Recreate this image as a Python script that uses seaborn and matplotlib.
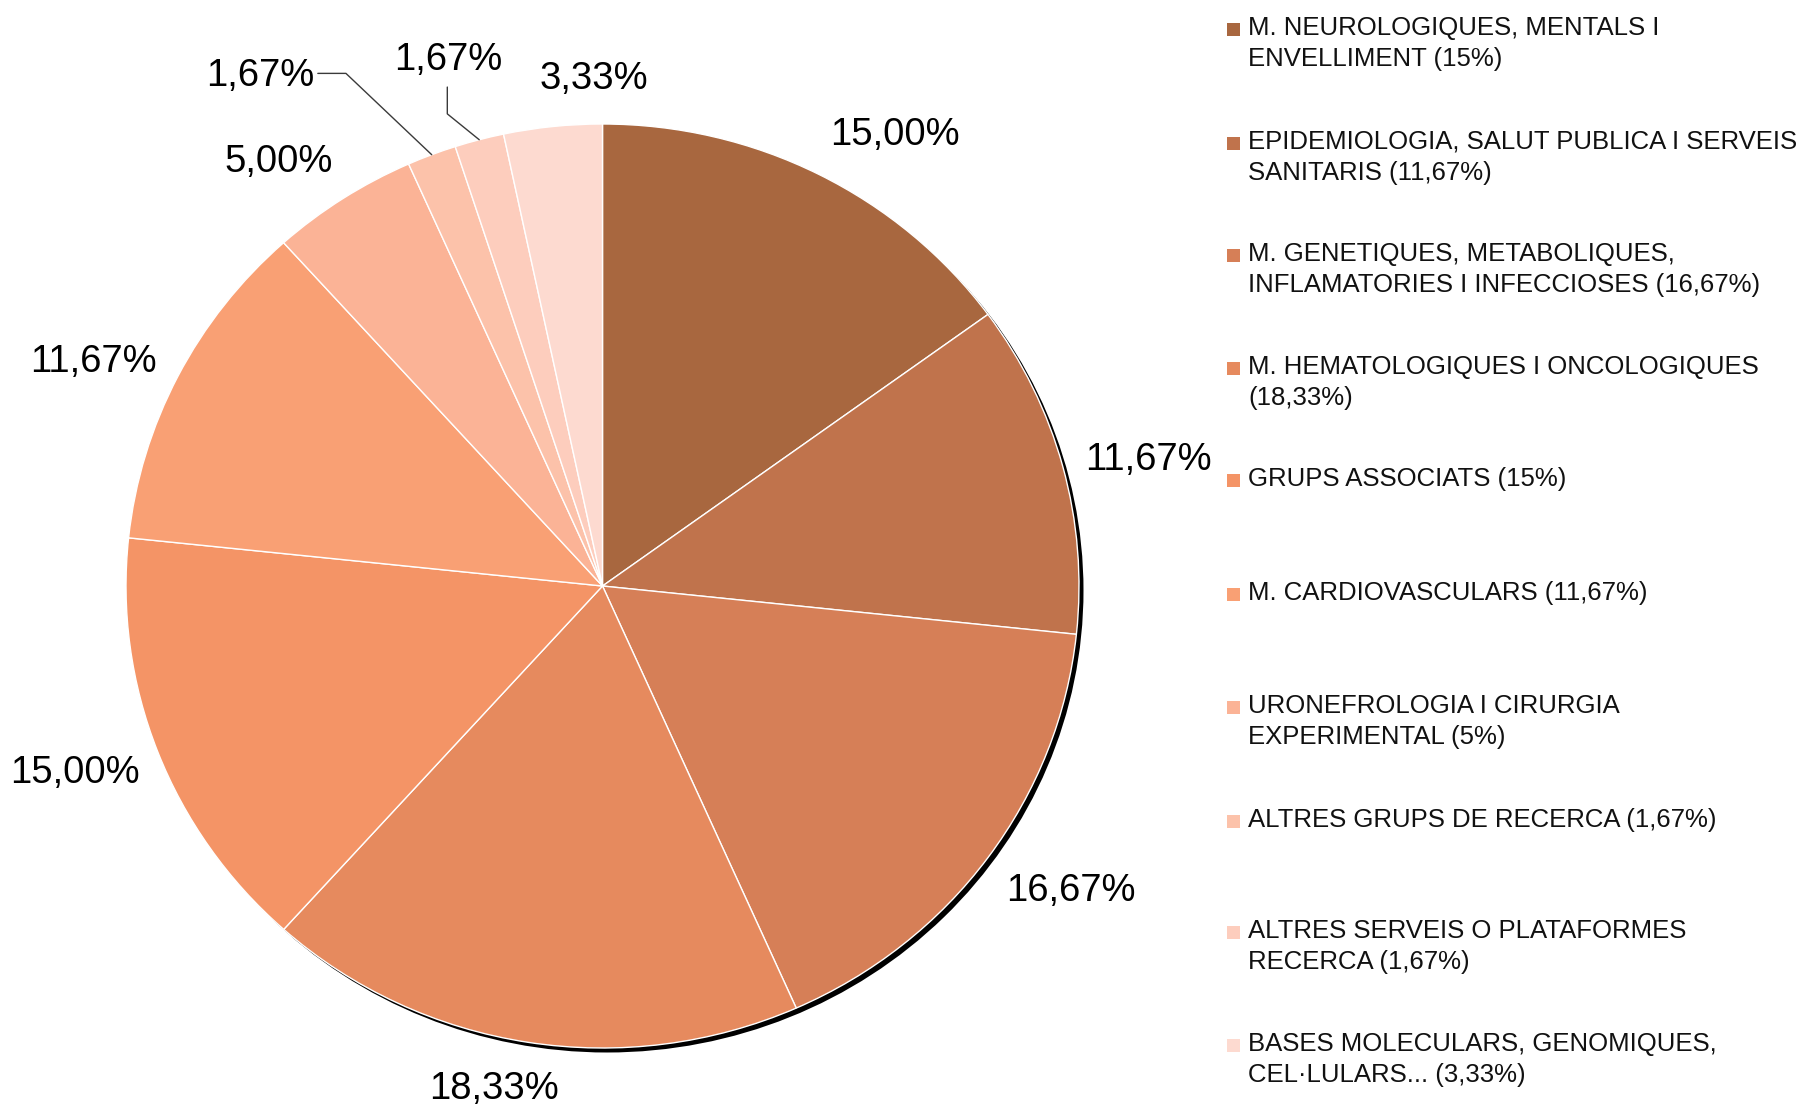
import numpy as np
import matplotlib
matplotlib.use("Agg")
import matplotlib.pyplot as plt
import matplotlib.transforms as mtransforms
from matplotlib.patches import Ellipse, Rectangle
import seaborn as sns

# ---------------- data ----------------
categories = [
    "M. NEUROLOGIQUES, MENTALS I\nENVELLIMENT (15%)",
    "EPIDEMIOLOGIA, SALUT PUBLICA I SERVEIS\nSANITARIS (11,67%)",
    "M. GENETIQUES, METABOLIQUES,\nINFLAMATORIES I INFECCIOSES (16,67%)",
    "M. HEMATOLOGIQUES I ONCOLOGIQUES\n(18,33%)",
    "GRUPS ASSOCIATS (15%)",
    "M. CARDIOVASCULARS (11,67%)",
    "URONEFROLOGIA I CIRURGIA\nEXPERIMENTAL (5%)",
    "ALTRES GRUPS DE RECERCA (1,67%)",
    "ALTRES SERVEIS O PLATAFORMES\nRECERCA (1,67%)",
    "BASES MOLECULARS, GENOMIQUES,\nCEL·LULARS... (3,33%)",
]
values = [15.00, 11.67, 16.67, 18.33, 15.00, 11.67, 5.00, 1.67, 1.67, 3.33]
value_labels = ["15,00%", "11,67%", "16,67%", "18,33%", "15,00%",
                "11,67%", "5,00%", "1,67%", "1,67%", "3,33%"]
colors = ["#A8673F", "#C0734C", "#D67F57", "#E68A5E", "#F49466",
          "#F9A074", "#FBB396", "#FCC2AA", "#FDCDBD", "#FDDAD0"]

# ---------------- layout ----------------
label_r = [1.159, 1.179, 1.18, 1.104, 1.176, 1.176, 1.149, 1.323, 1.190, 1.106]
label_dtheta = [5.0, 1.2, -2.4, 2.9, 1.3, -2.2, -3.3, -11.9, -0.8, 5.1]
leaders = {7: [(-0.180, 0.176), (-0.059, 0.0)],
           8: [(-0.067, 0.056), (0.0, 0.058)]}
legend_y = [28, 142, 254, 367, 479, 593, 706, 820, 931, 1044]
legend_line_gap = 31

sns.set_theme(style="white")
plt.rcParams['font.family'] = ['Liberation Sans', 'DejaVu Sans']

W, H = 1800, 1106
fig = plt.figure(figsize=(18, 11.06), dpi=100)
fig.patch.set_facecolor("white")

cx, cy, rx, ry = 602.5, 586, 476.5, 462
ax = fig.add_axes([(cx - rx) / W, (H - cy - ry) / H, 2 * rx / W, 2 * ry / H])

wedges, _ = ax.pie(values, colors=colors, startangle=90, counterclock=False,
                   wedgeprops=dict(edgecolor="white", linewidth=1.0))
for w in wedges:
    w.set_clip_on(False)
    w.set_zorder(2)
ax.set_aspect("auto")
ax.set_xlim(-1, 1)
ax.set_ylim(-1, 1)
ax.axis("off")

# shadow
shadow_tr = mtransforms.offset_copy(ax.transData, fig=fig, x=4.5, y=-4.5, units="dots")
sh = Ellipse((0, 0), 2, 2, facecolor="black", edgecolor="none", transform=shadow_tr,
             zorder=1, clip_on=False)
ax.add_patch(sh)

# percentage labels
text_tr = mtransforms.offset_copy(ax.transData, fig=fig, x=0, y=-3.5, units="dots")
cum = np.cumsum(values)
mids = (cum - np.array(values) / 2) / cum[-1] * 360.0
for i, lab in enumerate(value_labels):
    th = np.deg2rad(mids[i] + label_dtheta[i])
    x, y = label_r[i] * np.sin(th), label_r[i] * np.cos(th)
    ax.text(x, y, lab, ha="center", va="center", fontsize=27.5, color="black",
            clip_on=False, zorder=5, transform=text_tr)
    if i in leaders:
        tm = np.deg2rad(mids[i])
        ex, ey = np.sin(tm), np.cos(tm)
        (d1x, d1y), (d2x, d2y) = leaders[i]
        px = [ex, ex + d1x, ex + d1x + d2x]
        py = [ey, ey + d1y, ey + d1y + d2y]
        ax.plot(px, py, color="#3a3a3a", lw=1.0, clip_on=False, zorder=4)

# legend (manual)
for i, lab in enumerate(categories):
    y0 = legend_y[i]
    fig.patches.append(Rectangle((1227 / W, 1 - (y0 + 8) / H), 13 / W, 13 / H,
                                 transform=fig.transFigure, facecolor=colors[i],
                                 edgecolor="none"))
    for j, line in enumerate(lab.split("\n")):
        fig.text(1248 / W, 1 - (y0 + j * legend_line_gap) / H, line,
                 ha="left", va="center", fontsize=18.5, color="#111111")

fig.savefig("out.png", dpi=100, facecolor="white")
